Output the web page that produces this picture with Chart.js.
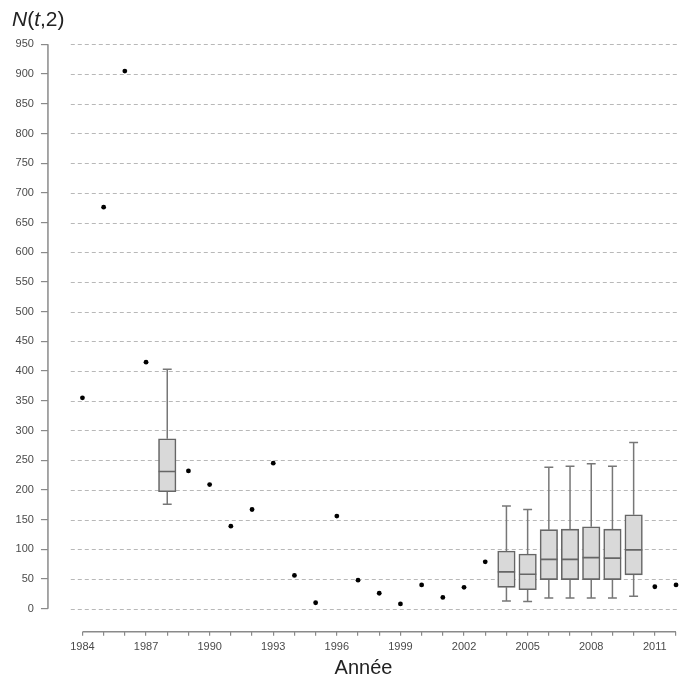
<!DOCTYPE html>
<html>
<head>
<meta charset="utf-8">
<script src="https://cdn.jsdelivr.net/npm/chart.js@4"></script>
<style>
html,body{margin:0;padding:0;background:#fff;}
#wrap{width:683px;height:683px;}
</style>
</head>
<body>
<div id="wrap"><canvas id="c" width="683" height="683"></canvas></div>
<script>
// ---- data ----
const pointYears  = [1984,1985,1986,1987,1989,1990,1991,1992,1993,1994,1995,1996,1997,1998,1999,2000,2001,2002,2003,2011,2012];
const pointValues = [355, 676, 905, 415, 232, 209, 139, 167, 245, 56,  10,  156, 48,  26,  8,   40,  19,  36,  79,  37,  40];

const boxYears    = [1988,2004,2005,2006,2007,2008,2009,2010];
const whiskerLow  = [176, 13,  12,  18,  18,  18,  18,  21];
const q1          = [197, 36,  32,  49,  49,  49,  49,  57];
const median      = [231, 62,  58,  83,  83,  86,  85,  99];
const q3          = [286, 97,  92,  133, 134, 138, 134, 158];
const whiskerHigh = [403, 173, 167, 238, 240, 244, 240, 280];

const yTickValues = [0,50,100,150,200,250,300,350,400,450,500,550,600,650,700,750,800,850,900,950];
const xTickYears  = [];
for (let y = 1984; y <= 2012; y++) xTickYears.push(y);
const xLabelYears = [1984,1987,1990,1993,1996,1999,2002,2005,2008,2011];

// ---- build datasets ----
const boxHalf = 0.41, capHalf = 0.21;
const whiskerData = [], capData = [], medianData = [];
boxYears.forEach((yr, i) => {
  whiskerData.push({x: yr, y: whiskerLow[i]}, {x: yr, y: q1[i]}, {x: yr, y: null});
  whiskerData.push({x: yr, y: q3[i]}, {x: yr, y: whiskerHigh[i]}, {x: yr, y: null});
  capData.push({x: yr - capHalf, y: whiskerLow[i]}, {x: yr + capHalf, y: whiskerLow[i]}, {x: yr, y: null});
  capData.push({x: yr - capHalf, y: whiskerHigh[i]}, {x: yr + capHalf, y: whiskerHigh[i]}, {x: yr, y: null});
  medianData.push({x: yr - boxHalf, y: median[i]}, {x: yr + boxHalf, y: median[i]}, {x: yr, y: null});
});
const boxData = boxYears.map((yr, i) => ({x: yr, y: [q1[i], q3[i]]}));
const pointData = pointYears.map((yr, i) => ({x: yr, y: pointValues[i]}));

const AX = '#8a8a8a';
Chart.defaults.font.family = '"Liberation Sans", Arial, sans-serif';

const rStyle = {
  id: 'rStyle',
  beforeDatasetsDraw(chart) {
    const {ctx, scales: {x, y}, chartArea} = chart;
    ctx.save();
    ctx.strokeStyle = '#b8b8b8';
    ctx.lineWidth = 1;
    ctx.setLineDash([4, 3]);
    const x0 = x.getPixelForValue(1983.45);
    yTickValues.forEach(v => {
      const py = Math.round(y.getPixelForValue(v)) + 0.5;
      ctx.beginPath();
      ctx.moveTo(x0, py);
      ctx.lineTo(chartArea.right, py);
      ctx.stroke();
    });
    ctx.restore();
  },
  afterDraw(chart) {
    const {ctx, scales: {x, y}, chartArea} = chart;
    ctx.save();
    ctx.strokeStyle = AX;
    ctx.lineWidth = 1.5;
    // y axis line
    ctx.beginPath();
    ctx.moveTo(chartArea.left, y.getPixelForValue(yTickValues[0]));
    ctx.lineTo(chartArea.left, y.getPixelForValue(yTickValues[yTickValues.length - 1]));
    ctx.stroke();
    // x axis line
    ctx.beginPath();
    ctx.moveTo(x.getPixelForValue(xTickYears[0]), chartArea.bottom);
    ctx.lineTo(x.getPixelForValue(xTickYears[xTickYears.length - 1]), chartArea.bottom);
    ctx.stroke();
    // y title N(t,2)
    ctx.fillStyle = '#222';
    ctx.textBaseline = 'alphabetic';
    let px = 12;
    const py = 26;
    const parts = [['N', true], ['(', false], ['t', true], [',2)', false]];
    parts.forEach(([s, it]) => {
      ctx.font = (it ? 'italic ' : '') + '21px "Liberation Sans", Arial, sans-serif';
      ctx.fillText(s, px, py);
      px += ctx.measureText(s).width;
    });
    ctx.restore();
  }
};

new Chart(document.getElementById('c'), {
  type: 'bar',
  data: {
    datasets: [
      {type: 'line', data: pointData, showLine: false, pointRadius: 2.4, pointBackgroundColor: '#000', pointBorderWidth: 0, order: 0},
      {type: 'line', data: medianData, borderColor: '#666', borderWidth: 1.7, pointRadius: 0, spanGaps: false, order: 1},
      {type: 'bar', data: boxData, backgroundColor: '#d9d9d9', borderColor: '#666', borderWidth: 1.6, borderSkipped: false, barThickness: 17.5, order: 2},
      {type: 'line', data: whiskerData, borderColor: '#777', borderWidth: 1.5, pointRadius: 0, spanGaps: false, order: 3},
      {type: 'line', data: capData, borderColor: '#777', borderWidth: 1.5, pointRadius: 0, spanGaps: false, order: 3}
    ]
  },
  options: {
    responsive: false,
    animation: false,
    layout: {padding: {left: 8.6, top: 21.8, right: 0, bottom: 2.1}},
    plugins: {legend: {display: false}, tooltip: {enabled: false}},
    scales: {
      x: {
        type: 'linear',
        offset: false,
        min: 1982.373,
        max: 2012.14,
        afterBuildTicks: s => { s.ticks = xTickYears.map(v => ({value: v})); },
        ticks: {
          autoSkip: false, maxRotation: 0, padding: 5,
          font: {size: 11}, color: '#4a4a4a',
          callback: v => xLabelYears.includes(v) ? String(v) : ''
        },
        grid: {offset: false, drawOnChartArea: false, drawTicks: true, tickLength: 4, color: AX, lineWidth: 1.2},
        border: {display: false},
        title: {display: true, text: 'Année', font: {size: 20, lineHeight: 1}, color: '#222', padding: {top: 0, bottom: 2}}
      },
      y: {
        type: 'linear',
        min: -38.7,
        max: 988,
        afterBuildTicks: s => { s.ticks = yTickValues.map(v => ({value: v})); },
        ticks: {padding: 7, font: {size: 11}, color: '#4a4a4a'},
        grid: {drawOnChartArea: false, drawTicks: true, tickLength: 7, color: AX, lineWidth: 1.2},
        border: {display: false}
      }
    }
  },
  plugins: [rStyle]
});
</script>
</body>
</html>
